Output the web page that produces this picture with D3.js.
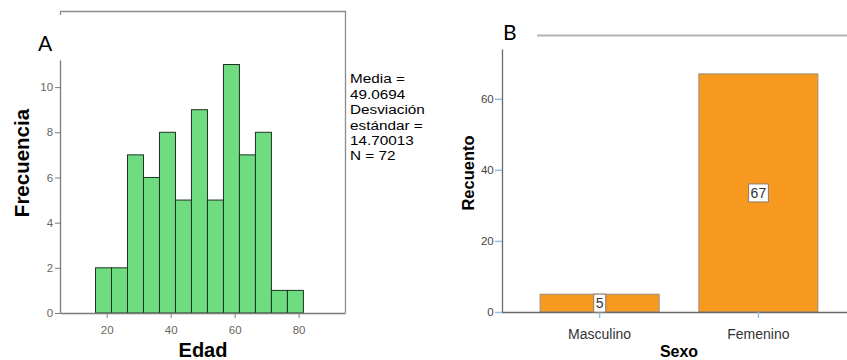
<!DOCTYPE html>
<html><head><meta charset="utf-8">
<script src="https://cdn.jsdelivr.net/npm/d3@7/dist/d3.min.js"></script>
<style>body{margin:0;background:#fff}svg{display:block}</style>
</head><body>
<svg id="c" width="847" height="360"></svg>
<script>
// Panel A: histogram of Edad
const binEdges = [16.5,21.5,26.5,31.5,36.5,41.5,46.5,51.5,56.5,61.5,66.5,71.5,76.5,81.5];
const binCounts = [2,2,7,6,8,5,9,5,11,7,8,1,1];
const xTicksA = [20,40,60,80];
const yTicksA = [0,2,4,6,8,10];
const statsLines = ["Media =","49.0694","Desviación","estándar =","14.70013","N = 72"];
// Panel B: bar chart of Sexo
const categories = ["Masculino","Femenino"];
const counts = [5,67];
const yTicksB = [0,20,40,60];

const svg = d3.select("#c");
const font = "'Liberation Sans', Arial, sans-serif";

// ---------- Panel A ----------
const xA = d3.scaleLinear().domain([5.4,94.5]).range([60,345]);
const yA = d3.scaleLinear().domain([0,11.2]).range([313,60]);
const gA = svg.append("g");
gA.append("path").attr("d","M60.5,15 V11.5 H345.5 V313")
  .attr("fill","none").attr("stroke","#8c8c8c").attr("stroke-width",1.3);
const bins = binCounts.map((c,i)=>({x0:binEdges[i],x1:binEdges[i+1],c}));
gA.selectAll("rect.bin").data(bins).join("rect").attr("class","bin")
  .attr("x",d=>xA(d.x0)).attr("width",d=>xA(d.x1)-xA(d.x0))
  .attr("y",d=>yA(d.c)).attr("height",d=>yA(0)-yA(d.c))
  .attr("fill","#6fdc82").attr("stroke","#1e3322").attr("stroke-width",1);
const axA = gA.append("g").attr("transform","translate(0,313)")
  .call(d3.axisBottom(xA).tickValues(xTicksA).tickSize(5).tickSizeOuter(0));
const ayA = gA.append("g").attr("transform","translate(60,0)")
  .call(d3.axisLeft(yA).tickValues(yTicksA).tickSize(5).tickSizeOuter(0));
[axA,ayA].forEach(a=>{
  a.select(".domain").attr("stroke","#7a7a7a").attr("stroke-width",1.3);
  a.selectAll(".tick line").attr("stroke","#7a7a7a");
  a.selectAll("text").attr("fill","#666").attr("font-family",font).attr("font-size",11.5);
});
axA.selectAll("text").attr("dy","1.15em");
ayA.selectAll("text").attr("dx","0.1em");
gA.append("text").attr("x",203).attr("y",357).attr("text-anchor","middle")
  .attr("font-family",font).attr("font-weight","bold").attr("font-size",20).text("Edad");
gA.append("text").attr("transform","translate(29,163) rotate(-90)").attr("text-anchor","middle")
  .attr("font-family",font).attr("font-weight","bold").attr("font-size",20.5).text("Frecuencia");
gA.append("text").attr("x",38).attr("y",51).attr("font-family","Lato, 'Open Sans', sans-serif")
  .attr("font-size",21).text("A");
const st = gA.append("g").attr("transform","translate(350,0) scale(1.15,1)")
  .append("text").attr("font-family",font).attr("font-size",13.3).attr("fill","#000");
statsLines.forEach((s,i)=>st.append("tspan").attr("x",0).attr("y",83.5+i*15.4).text(s));

// ---------- Panel B ----------
const xB = d3.scaleBand().domain(categories).range([502,856]).paddingInner(0.25).paddingOuter(0.24);
const yB = d3.scaleLinear().domain([0,74]).range([312,49]);
const gB = svg.append("g");
gB.append("line").attr("x1",537).attr("x2",847).attr("y1",35.5).attr("y2",35.5)
  .attr("stroke","#b4b4b4").attr("stroke-width",2);
gB.append("text").attr("x",503).attr("y",40).attr("font-family","Lato, 'Open Sans', sans-serif")
  .attr("font-size",21).text("B");
gB.selectAll("rect.bar").data(categories).join("rect").attr("class","bar")
  .attr("x",d=>xB(d)).attr("width",xB.bandwidth())
  .attr("y",(d,i)=>yB(counts[i])).attr("height",(d,i)=>yB(0)-yB(counts[i]))
  .attr("fill","#f7991e").attr("stroke","#9a8f80").attr("stroke-width",1);
const axB = gB.append("g").attr("transform","translate(0,312)")
  .call(d3.axisBottom(xB).tickSize(6).tickSizeOuter(0));
axB.select(".domain").attr("d","M502,0.5H847").attr("stroke","#6a6a6a").attr("stroke-width",1.3);
axB.selectAll(".tick line").attr("stroke","#8fc3e0").attr("stroke-width",1.5);
axB.selectAll("text").attr("fill","#333").attr("font-family",font).attr("font-size",14).attr("dy","1.25em");
const ayB = gB.append("g").attr("transform","translate(502,0)")
  .call(d3.axisLeft(yB).tickValues(yTicksB).tickSize(7).tickSizeOuter(0));
ayB.select(".domain").attr("stroke","#6a6a6a").attr("stroke-width",1.3);
ayB.selectAll(".tick line").attr("stroke","#8fc3e0").attr("stroke-width",1.5);
ayB.selectAll("text").attr("fill","#444").attr("font-family",font).attr("font-size",11.5).attr("dx","0.15em");
const lab = gB.selectAll("g.lab").data(categories).join("g").attr("class","lab")
  .attr("transform",(d,i)=>`translate(${xB(d)+xB.bandwidth()/2},${(yB(counts[i])+yB(0))/2})`);
lab.each(function(d,i){
  const g = d3.select(this);
  const t = g.append("text").attr("text-anchor","middle").attr("dy","0.36em")
    .attr("font-family",font).attr("font-size",14).attr("fill","#333").text(counts[i]);
  const bb = t.node().getBBox();
  g.insert("rect","text").attr("x",bb.x-2).attr("y",-9).attr("width",bb.width+4).attr("height",18)
    .attr("fill","#fff").attr("stroke","#8a7a6a").attr("stroke-width",1);
});
gB.append("text").attr("x",679).attr("y",357).attr("text-anchor","middle")
  .attr("font-family",font).attr("font-weight","bold").attr("font-size",16).text("Sexo");
gB.append("text").attr("transform","translate(474,173) rotate(-90)").attr("text-anchor","middle")
  .attr("font-family",font).attr("font-weight","bold").attr("font-size",16.5).text("Recuento");
</script>
</body></html>
